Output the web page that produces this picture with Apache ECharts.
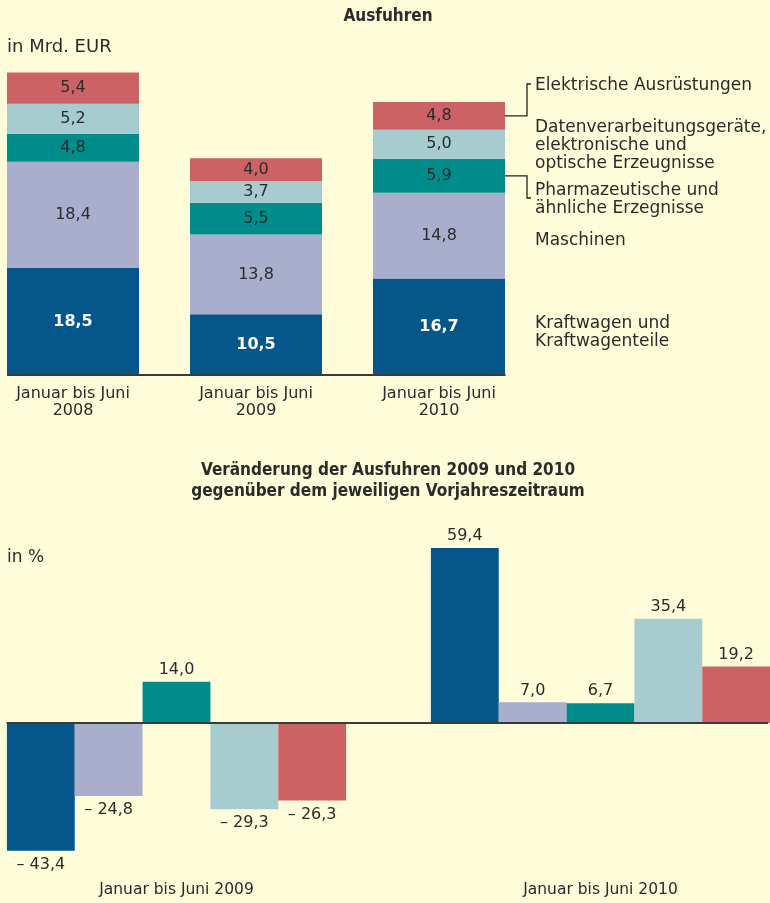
<!DOCTYPE html>
<html><head><meta charset="utf-8">
<script src="https://cdn.jsdelivr.net/npm/echarts@6/dist/echarts.min.js"></script>
<style>html,body{margin:0;padding:0;background:#FFFCDA;} #c{width:770px;height:903px;}</style>
</head><body><div id="c"></div>
<script>
// ---- data ----
const periods = ['Januar bis Juni\n2008', 'Januar bis Juni\n2009', 'Januar bis Juni\n2010'];
const seriesNames = ['Kraftwagen und Kraftwagenteile', 'Maschinen', 'Pharmazeutische und ähnliche Erzegnisse', 'Datenverarbeitungsgeräte, elektronische und optische Erzeugnisse', 'Elektrische Ausrüstungen'];
const legendLabels = ['Kraftwagen und\nKraftwagenteile', 'Maschinen', 'Pharmazeutische und\nähnliche Erzegnisse', 'Datenverarbeitungsgeräte,\nelektronische und\noptische Erzeugnisse', 'Elektrische Ausrüstungen'];
const kraftwagen = [18.5, 10.5, 16.7];
const maschinen = [18.4, 13.8, 14.8];
const pharma = [4.8, 5.5, 5.9];
const daten = [5.2, 3.7, 5.0];
const elektr = [5.4, 4.0, 4.8];

const changePeriods = ['Januar bis Juni 2009', 'Januar bis Juni 2010'];
const chgKraftwagen = [-43.4, 59.4];
const chgMaschinen = [-24.8, 7.0];
const chgPharma = [14.0, 6.7];
const chgDaten = [-29.3, 35.4];
const chgElektr = [-26.3, 19.2];

// ---- styles ----
const colors = ['#04568B', '#A8AECB', '#008C8A', '#A6CCD0', '#CD6266'];
const TXT = '#2b2b2b';
const FONT = '"DejaVu Sans", "Noto Sans", sans-serif';
const CFONT = '"DejaVu Sans Condensed", "DejaVu Sans", sans-serif';

const topData = [kraftwagen, maschinen, pharma, daten, elektr];
const chgData = [chgKraftwagen, chgMaschinen, chgPharma, chgDaten, chgElektr];

const fmt = v => v.toFixed(1).replace('.', ',');
const fmtSigned = v => (v < 0 ? '\u2013 ' : '') + Math.abs(v).toFixed(1).replace('.', ',');

const chart = echarts.init(document.getElementById('c'), null, {renderer: 'canvas'});

const series = [];
topData.forEach((arr, i) => {
  series.push({
    name: seriesNames[i], type: 'bar', stack: 'top', xAxisIndex: 0, yAxisIndex: 0,
    barWidth: 132, silent: true,
    data: arr,
    itemStyle: {color: colors[i]},
    label: {
      show: true, position: 'inside', formatter: p => fmt(p.value),
      fontFamily: FONT, fontSize: 16,
      color: i === 0 ? '#ffffff' : TXT, fontWeight: i === 0 ? 'bold' : 'normal'
    }
  });
});
chgData.forEach((arr, i) => {
  series.push({
    name: seriesNames[i], type: 'bar', xAxisIndex: 1, yAxisIndex: 1,
    barGap: 0, barCategoryGap: '20%', silent: true,
    data: arr.map(v => ({value: v, label: {position: v < 0 ? 'bottom' : 'top', distance: v < 0 ? 6 : 4}})),
    itemStyle: {color: colors[i]},
    label: {show: true, formatter: p => fmtSigned(p.value), fontFamily: FONT, fontSize: 16, color: TXT}
  });
});

const option = {
  backgroundColor: '#FFFCDA',
  animation: false,
  title: [
    {text: 'in Mrd. EUR', left: 7, top: 36, padding: 0,
     textStyle: {fontFamily: FONT, fontSize: 18, fontWeight: 'normal', color: TXT, lineHeight: 22}},
    {text: 'in %', left: 7, top: 548, padding: 0,
     textStyle: {fontFamily: FONT, fontSize: 17, fontWeight: 'normal', color: TXT, lineHeight: 20}}
  ],
  grid: [
    {left: -18.5, width: 549, top: 57, height: 318, outerBoundsMode: 'none', containLabel: false},
    {left: -35.5, width: 848, top: 546.3, height: 323.9, outerBoundsMode: 'none', containLabel: false}
  ],
  xAxis: [
    {type: 'category', gridIndex: 0, data: periods,
     axisLine: {show: false}, axisTick: {show: false}, splitLine: {show: false},
     axisLabel: {fontFamily: FONT, fontSize: 16, lineHeight: 17, color: TXT, margin: 10, interval: 0}},
    {type: 'category', gridIndex: 1, data: changePeriods,
     axisLine: {show: false, onZero: false}, axisTick: {show: false}, splitLine: {show: false},
     axisLabel: {fontFamily: FONT, fontSize: 15.5, color: TXT, margin: 12, interval: 0}}
  ],
  yAxis: [
    {type: 'value', gridIndex: 0, min: 0, max: 55, show: false, splitLine: {show: false}},
    {type: 'value', gridIndex: 1, min: -50, max: 60, show: false, splitLine: {show: false}}
  ],
  series: series
};
chart.setOption(option);

// ---- annotation: titles, baselines, legend texts and brackets ----
const g = [];
g.push({type: 'text', z: 10, style: {text: 'Ausfuhren', x: 388, y: 17, align: 'center', verticalAlign: 'middle',
        fill: TXT, font: 'bold 17px ' + CFONT}});
g.push({type: 'text', z: 10, style: {text: 'Veränderung der Ausfuhren 2009 und 2010\ngegenüber dem jeweiligen Vorjahreszeitraum',
        x: 388, y: 481, align: 'center', verticalAlign: 'middle', lineHeight: 21,
        fill: TXT, font: 'bold 17px ' + CFONT}});

const half = 66;
const p0 = chart.convertToPixel({gridIndex: 0}, [0, 0]);
const p2 = chart.convertToPixel({gridIndex: 0}, [2, 0]);
g.push({type: 'line', shape: {x1: p0[0] - half, y1: p0[1], x2: p2[0] + half + 0.5, y2: p0[1]},
        style: {stroke: '#3a3a3a', lineWidth: 2}, z: 10});

const q0 = chart.convertToPixel({gridIndex: 1}, [0, 0]);
g.push({type: 'line', shape: {x1: q0[0] - 170, y1: q0[1], x2: 768, y2: q0[1]},
        style: {stroke: '#3a3a3a', lineWidth: 2}, z: 10});

// segment midpoints for the 2010 bar
let cum = 0;
const mids = [];
topData.forEach(arr => {
  const lo = cum; cum += arr[2];
  const yLo = chart.convertToPixel({gridIndex: 0}, [2, lo])[1];
  const yHi = chart.convertToPixel({gridIndex: 0}, [2, cum])[1];
  mids.push((yLo + yHi) / 2);
});
const barRight = p2[0] + half;
const textX = 535;
const textY = [333, 241, 200, 146, 86];
legendLabels.forEach((t, i) => {
  g.push({type: 'text', z: 10,
    style: {text: t, x: textX, y: textY[i], fill: TXT,
            font: '17px ' + FONT, lineHeight: 18, verticalAlign: 'middle', align: 'left'}});
});
const bx = 527;
// bracket for Elektrische Ausrüstungen
g.push({type: 'polyline', z: 10, shape: {points: [[barRight, mids[4]], [bx, mids[4]], [bx, 84], [531, 84]]},
        style: {stroke: '#222', lineWidth: 1.3, fill: null}});
// bracket for Pharma
g.push({type: 'polyline', z: 10, shape: {points: [[barRight, mids[2]], [bx, mids[2]], [bx, 198], [531, 198]]},
        style: {stroke: '#222', lineWidth: 1.3, fill: null}});

chart.setOption({graphic: g});
</script>
</body></html>
